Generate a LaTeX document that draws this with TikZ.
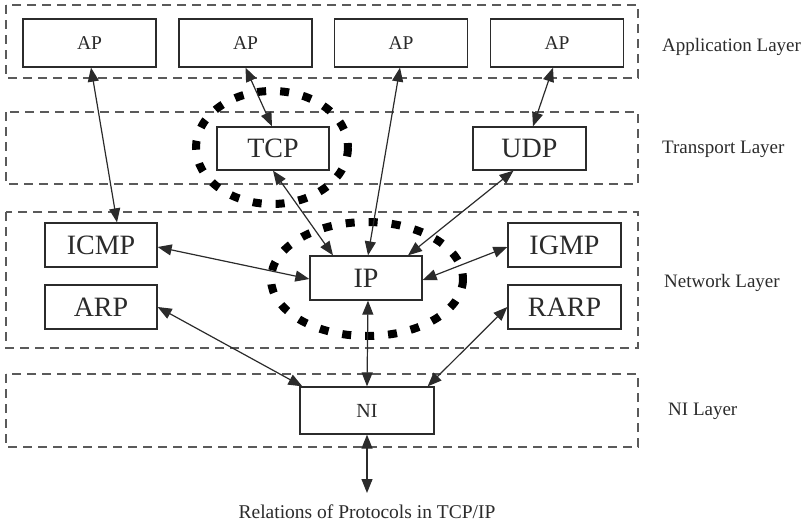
\documentclass[tikz,border=0pt]{standalone}
\usepackage{fontspec}
\setmainfont{Liberation Serif}
\usetikzlibrary{arrows.meta}
\definecolor{ink}{HTML}{2B2B2B}
\definecolor{layerline}{HTML}{5A5A5A}

\begin{document}
\begin{tikzpicture}[x=1pt,y=-1pt,
  layer/.style={draw=layerline, line width=1.3pt, dash pattern=on 9pt off 6pt},
  ring/.style={draw=black, line width=8pt, dash pattern=on 9pt off 14pt},
  proto/.style={draw=ink, line width=1.3pt, fill=white, inner sep=0pt, text=ink},
  apbox/.style={proto, minimum width=133pt, minimum height=48pt, font=\fontsize{19.5}{22}\selectfont},
  bigbox/.style={proto, minimum width=112pt, minimum height=44pt, font=\fontsize{28}{32}\selectfont},
  nibox/.style={proto, minimum width=134pt, minimum height=47pt, font=\fontsize{20}{24}\selectfont},
  layername/.style={anchor=west, inner sep=0pt, text=ink, font=\fontsize{19}{22}\selectfont},
  conn/.style={draw=ink, line width=1.2pt,
    {Triangle[length=14pt,width=11pt]}-{Triangle[length=14pt,width=11pt]}}
]
\useasboundingbox (0,0) rectangle (806,525);

% layer frames
\draw[layer] (6,5) rectangle (638,78);
\draw[layer] (6,112) rectangle (638,184);
\draw[layer] (6,212) rectangle (638,348);
\draw[layer] (6,374) rectangle (638,447);

% highlighted protocols
\draw[ring] (272,147.5) ellipse [x radius=76, y radius=56.5];
\draw[ring] (367,279) ellipse [x radius=96, y radius=57];

% application layer
\node[apbox] (ap1) at (89.5,43) {AP};
\node[apbox] (ap2) at (245.5,43) {AP};
\node[apbox] (ap3) at (401,43) {AP};
\node[apbox] (ap4) at (557,43) {AP};

% transport layer
\node[bigbox, minimum height=43pt] (tcp) at (273,148.5) {TCP};
\node[bigbox, minimum height=43pt, minimum width=113pt] (udp) at (529.5,148.5) {UDP};

% network layer
\node[bigbox] (icmp) at (101,245) {ICMP};
\node[bigbox] (arp) at (101,307) {ARP};
\node[bigbox] (ip) at (366,278) {IP};
\node[bigbox, minimum width=113pt] (igmp) at (564.5,245) {IGMP};
\node[bigbox, minimum width=113pt] (rarp) at (564.5,307) {RARP};

% network interface
\node[nibox] (ni) at (367,410.5) {NI};
\coordinate (wire) at (367,493);

% layer names
\node[layername] (lapp) at (662,47) {Application Layer};
\node[layername] (ltra) at (662,149) {Transport Layer};
\node[layername] (lnet) at (664,283) {Network Layer};
\node[layername] (lni) at (668,411) {NI Layer};

\node[text=ink, inner sep=0pt, font=\fontsize{19.5}{22}\selectfont] (caption) at (367,512) {Relations of Protocols in TCP/IP};

% relations
\draw[conn] ([xshift=1.5pt]ap1.south) -- ([xshift=16pt]icmp.north);
\draw[conn] (ap2.south) -- ([xshift=-1pt]tcp.north);
\draw[conn] ([xshift=-1pt]ap3.south) -- ([xshift=2pt]ip.north);
\draw[conn] ([xshift=-4pt]ap4.south) -- ([xshift=3.5pt]udp.north);
\draw[conn] (tcp.south) -- ([xshift=-33pt]ip.north);
\draw[conn] ([xshift=-16pt]udp.south) -- ([xshift=42pt]ip.north);
\draw[conn] ([yshift=-2pt]icmp.east) -- ([yshift=-1pt]ip.west);
\draw[conn] ([yshift=-2pt]igmp.west) -- ([yshift=-2pt]ip.east);
\draw[conn] (arp.east) -- ([xshift=3pt]ni.north west);
\draw[conn] (rarp.west) -- ([xshift=-7pt]ni.north east);
\draw[conn] ([xshift=2pt]ip.south) -- (ni.north);
\draw[conn] (ni.south) -- (wire);
\end{tikzpicture}
\end{document}
